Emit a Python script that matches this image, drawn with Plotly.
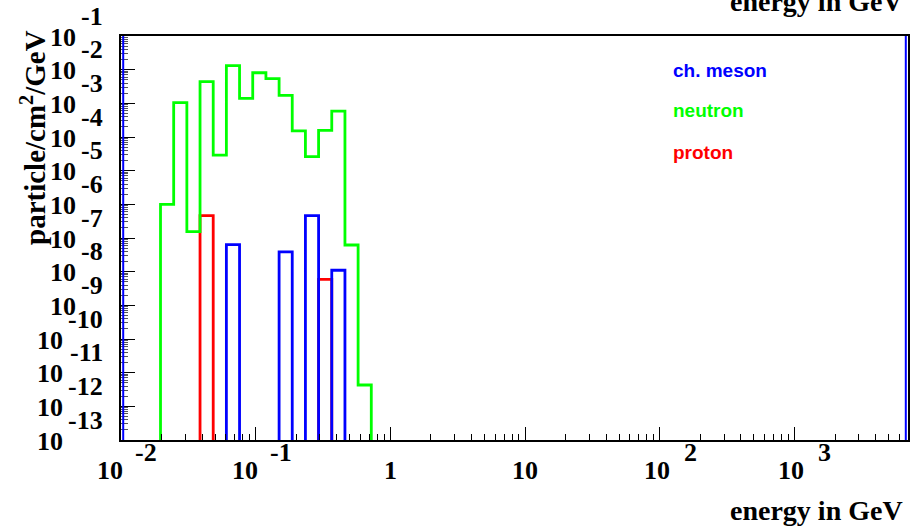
import plotly.graph_objects as go

# Energy bin edges (GeV), logarithmic binning
bin_edges = [0.01965, 0.02461, 0.03083, 0.03862, 0.04837, 0.06059, 0.07589,
             0.09506, 0.1191, 0.1492, 0.1868, 0.2340, 0.2931, 0.3671,
             0.4599, 0.5760, 0.7215]

# Flux per bin (particle/cm^2/GeV); 0 means an empty bin
neutron = [1.0e-6, 1.05e-3, 1.55e-7, 4.4e-3, 2.9e-5, 1.31e-2, 1.41e-3, 8.1e-3,
           5.4e-3, 1.73e-3, 1.51e-4, 2.6e-5, 1.58e-4, 5.9e-4, 6.2e-8, 4.3e-12]
proton = [0, 0, 0, 4.6e-7, 0, 0, 0, 0,
          0, 0, 0, 0, 5.9e-9, 0, 0, 0]
ch_meson = [0, 0, 0, 0, 0, 6.4e-8, 0, 0,
            0, 3.85e-8, 0, 4.6e-7, 0, 1.1e-8, 0, 0]

x_decades = [-2, -1, 0, 1, 2, 3]
y_decades = list(range(-13, 0))

X_RANGE = [-2, 3.843]
Y_RANGE = [-13, -1]
EMPTY = 1e-16  # empty bins drop below the visible y-range

SERIF = "Liberation Serif, Times New Roman, serif"
SANS = "Liberation Sans, Arial, sans-serif"


def step_xy(edges, counts):
    """Histogram outline as an hv step path."""
    vals = [c if c > 0 else EMPTY for c in counts]
    xs = [edges[0]] + list(edges)
    ys = [EMPTY] + vals + [EMPTY]
    return xs, ys


fig = go.Figure()
for name, counts, color in [("proton", proton, "#ff0000"),
                            ("neutron", neutron, "#00ff00"),
                            ("ch. meson", ch_meson, "#0000ff")]:
    xs, ys = step_xy(bin_edges, counts)
    fig.add_trace(go.Scatter(x=xs, y=ys, mode="lines", name=name,
                             line=dict(color=color, width=2.8, shape="hv"),
                             showlegend=False, hoverinfo="skip"))

minor_x = [m * 10.0 ** e for e in range(-2, 4) for m in range(2, 10)]
minor_y = [m * 10.0 ** e for e in range(-13, -1) for m in range(2, 10)]

fig.update_xaxes(type="log", range=X_RANGE, showgrid=False, zeroline=False,
                 showline=True, linecolor="black", linewidth=2, mirror=True,
                 tickmode="array", tickvals=[10.0 ** d for d in x_decades],
                 ticks="inside", ticklen=13, tickcolor="black", tickwidth=1,
                 showticklabels=False, layer="above traces",
                 minor=dict(tickmode="array", tickvals=minor_x, ticks="inside",
                            ticklen=6, tickcolor="black", tickwidth=1,
                            showgrid=False))
fig.update_yaxes(type="log", range=Y_RANGE, showgrid=False, zeroline=False,
                 showline=True, linecolor="black", linewidth=2, mirror=True,
                 tickmode="array", tickvals=[10.0 ** d for d in y_decades],
                 ticks="inside", ticklen=14, tickcolor="black", tickwidth=1,
                 showticklabels=False, layer="above traces",
                 minor=dict(tickmode="array", tickvals=minor_y, ticks="inside",
                            ticklen=7, tickcolor="#555555", tickwidth=1,
                            showgrid=False))

# blue inner edges of the frame
for xp in (0.0028, 0.9972):
    fig.add_shape(type="line", xref="paper", yref="paper", x0=xp, x1=xp,
                  y0=0, y1=1, line=dict(color="#0000ff", width=2))

LBL = 26


def exp_width(s):
    return sum(8.7 if ch == "-" else 13 for ch in s)


anns = []
# y-axis decade labels: "10" with a raised exponent
for d in y_decades:
    e = str(d)
    w = exp_width(e)
    anns.append(dict(x=0, xref="paper", y=d, yref="y", text="<b>10</b>",
                     xanchor="right", yanchor="middle", showarrow=False,
                     xshift=-16 - w - 5, yshift=-1,
                     font=dict(family=SERIF, size=LBL, color="black")))
    anns.append(dict(x=0, xref="paper", y=d, yref="y", text=f"<b>{e}</b>",
                     xanchor="right", yanchor="middle", showarrow=False,
                     xshift=-16, yshift=20,
                     font=dict(family=SERIF, size=LBL, color="black")))

# x-axis decade labels
for d in x_decades:
    if d == 0 or d == 1:
        anns.append(dict(x=d, xref="x", y=0, yref="paper",
                         text="<b>1</b>" if d == 0 else "<b>10</b>",
                         xanchor="center", yanchor="middle", showarrow=False,
                         yshift=-30,
                         font=dict(family=SERIF, size=LBL, color="black")))
        continue
    c_off, e_off = (-11, 12) if d < 0 else (-3, 22)
    anns.append(dict(x=d, xref="x", y=0, yref="paper", text="<b>10</b>",
                     xanchor="center", yanchor="middle", showarrow=False,
                     xshift=c_off, yshift=-30,
                     font=dict(family=SERIF, size=LBL, color="black")))
    anns.append(dict(x=d, xref="x", y=0, yref="paper", text=f"<b>{d}</b>",
                     xanchor="left", yanchor="middle", showarrow=False,
                     xshift=e_off, yshift=-12,
                     font=dict(family=SERIF, size=LBL, color="black")))

# axis titles
for ys in (-70, 439):
    anns.append(dict(x=1, xref="paper", y=0, yref="paper",
                     text="<b>energy in GeV</b>", xanchor="right",
                     yanchor="middle", showarrow=False, xshift=-3, yshift=ys,
                     font=dict(family=SERIF, size=28, color="black")))
anns.append(dict(x=0, xref="paper", y=(440 - 138) / 404, yref="paper",
                 text="<b>particle/cm<sup>2</sup>/GeV</b>", textangle=-90,
                 xanchor="center", yanchor="middle", showarrow=False,
                 xshift=-88,
                 font=dict(family=SERIF, size=29, color="black")))

# species labels
for text, color, yp in [("ch. meson", "#0000ff", (440 - 71) / 404),
                        ("neutron", "#00ff00", (440 - 110) / 404),
                        ("proton", "#ff0000", (440 - 152) / 404)]:
    anns.append(dict(x=(671 - 121) / 787, xref="paper", y=yp, yref="paper",
                     text=f"<b>{text}</b>", xanchor="left", yanchor="middle",
                     showarrow=False,
                     font=dict(family=SANS, size=19, color=color)))

fig.update_layout(width=923, height=526,
                  margin=dict(l=121, r=15, t=36, b=86, autoexpand=False),
                  paper_bgcolor="white", plot_bgcolor="white",
                  annotations=anns, showlegend=False)

fig.write_html("out.html")
